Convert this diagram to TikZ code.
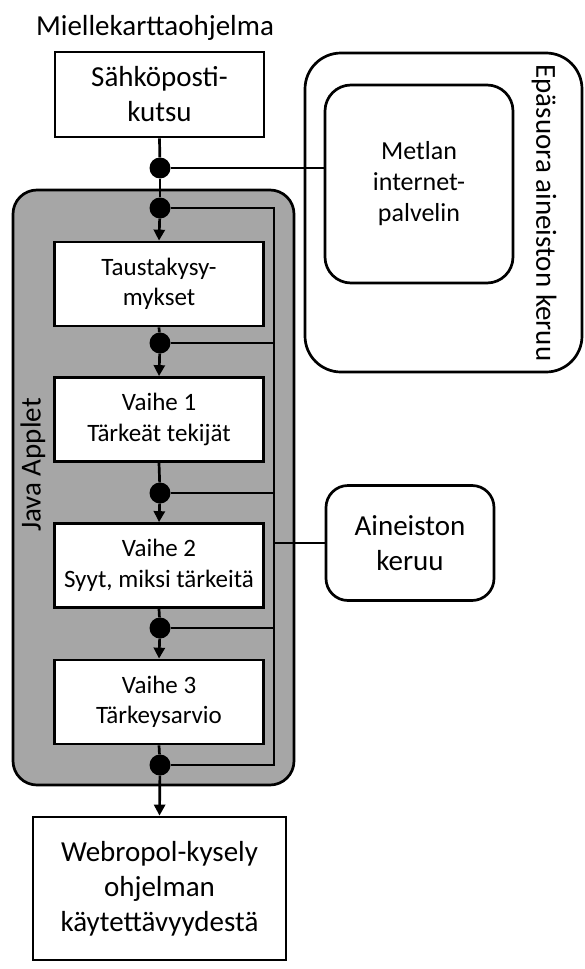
\documentclass[tikz,border=0pt]{standalone}
\usepackage{fontspec}
\setmainfont{Carlito}
\usepackage{xcolor}
\usetikzlibrary{arrows.meta}
\definecolor{appletgray}{RGB}{166,166,166}

\begin{document}
\begin{tikzpicture}[x=1pt, y=-1pt,
  wire/.style={line width=2.7pt},
  flow/.style={line width=2.7pt, -{Triangle[length=11pt, width=11pt]}},
  dot/.style={circle, fill=black, inner sep=0pt, minimum size=21pt},
  bigbox/.style={draw, line width=2.7pt, fill=white, align=center,
    font=\fontsize{29}{35}\selectfont},
  stepbox/.style={draw, line width=2.7pt, fill=white, align=center,
    minimum width=209pt, minimum height=84pt,
    font=\fontsize{25}{30.5}\selectfont},
  roundbox/.style={draw, line width=2.7pt, rounded corners=22pt, align=center}
]
\useasboundingbox (0,0) rectangle (584,969);

% Java Applet container and indirect collection area
\draw[line width=2.7pt, fill=appletgray, rounded corners=24pt] (13,190) rectangle (294,785);
\draw[line width=2.7pt, rounded corners=36pt] (305,53) rectangle (582,372);
\node[rotate=90, font=\fontsize{29}{35}\selectfont] (applet) at (33,465) {Java Applet};
\node[rotate=-90, font=\fontsize{29}{35}\selectfont] (epasuora) at (544,213) {Epäsuora aineiston keruu};

% Title
\node[font=\fontsize{29}{35}\selectfont] (title) at (155,28) {Miellekarttaohjelma};

% Boxes of the flow
\node[bigbox, minimum width=209pt, minimum height=85pt] (email) at (159.5,94.5) {Sähköposti-\\kutsu};
\node[stepbox] (tausta) at (159,284) {Taustakysy-\\mykset};
\node[stepbox] (vaihe1) at (159,419.5) {Vaihe 1\\Tärkeät tekijät};
\node[stepbox] (vaihe2) at (159,565.5) {Vaihe 2\\Syyt, miksi tärkeitä};
\node[stepbox] (vaihe3) at (159,702) {Vaihe 3\\Tärkeysarvio};
\node[bigbox, minimum width=253pt, minimum height=143pt] (webropol) at (159.5,888.5)
  {Webropol-kysely\\ohjelman\\käytettävyydestä};

% Servers on the right
\node[roundbox, minimum width=188pt, minimum height=198pt, rounded corners=26pt,
  font=\fontsize{26}{31}\selectfont] (metla) at (419,184) {Metlan\\internet-\\palvelin};
\node[roundbox, minimum width=168pt, minimum height=115pt,
  font=\fontsize{29}{35}\selectfont] (keruu) at (410,543) {Aineiston\\keruu};

% Junction dots
\node[dot] (d1) at (160,168) {};
\node[dot] (d2) at (160,208) {};
\node[dot] (d3) at (160,343) {};
\node[dot] (d4) at (160,493) {};
\node[dot] (d5) at (160,628) {};
\node[dot] (d6) at (160,765) {};

% Collection bus
\coordinate (bustop) at (274,208);
\coordinate (busbot) at (274,765);

% Main flow
\draw[wire] (email.south) -- (d1);
\draw[wire] (d1) -- (d2);
\draw[flow] (d2) -- (tausta.north);
\draw[wire] (tausta.south) -- (d3);
\draw[flow] (d3) -- (vaihe1.north);
\draw[wire] (vaihe1.south) -- (d4);
\draw[flow] (d4) -- (vaihe2.north);
\draw[wire] (vaihe2.south) -- (d5);
\draw[flow] (d5) -- (vaihe3.north);
\draw[wire] (vaihe3.south) -- (d6);
\draw[flow] (d6) -- (webropol.north);

% Data lines
\draw[wire] (d1) -- (d1 -| metla.west);
\draw[wire] (d2) -- (bustop) -- (busbot) -- (d6);
\draw[wire] (d3) -- (d3 -| bustop);
\draw[wire] (d4) -- (d4 -| bustop);
\draw[wire] (d5) -- (d5 -| bustop);
\draw[wire] (keruu.west) -- (keruu.west -| bustop);

\end{tikzpicture}
\end{document}
